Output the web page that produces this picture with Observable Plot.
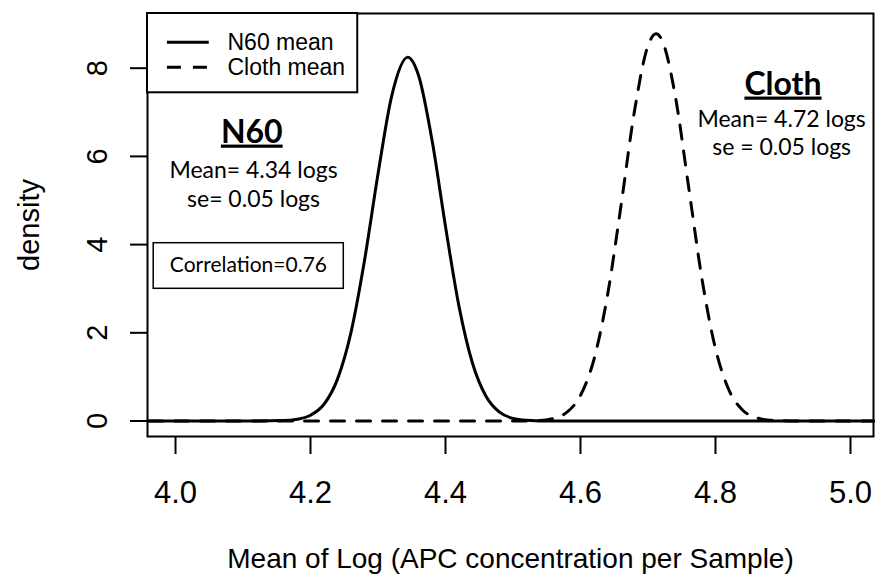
<!DOCTYPE html>
<html>
<head>
<meta charset="utf-8">
<script src="https://cdn.jsdelivr.net/npm/d3@7"></script>
<script src="https://cdn.jsdelivr.net/npm/@observablehq/plot@0.6"></script>
<style>
  html, body { margin: 0; padding: 0; background: #fff; }
  .ul text { text-decoration: underline; text-decoration-thickness: 3px; text-underline-offset: 4px; }
</style>
</head>
<body>
<div id="chart"></div>
<script>
// Density curves
const n60X = [3.96, 4.10, 4.16, 4.18, 4.20, 4.22, 4.24, 4.26, 4.28, 4.30, 4.32, 4.344, 4.36, 4.38, 4.40, 4.42, 4.44, 4.46, 4.48, 4.50, 4.52, 4.56, 5.034];
const n60Density = [0, 0, 0.01, 0.04, 0.13, 0.38, 0.95, 2.01, 3.64, 5.60, 7.35, 8.25, 7.84, 6.37, 4.41, 2.60, 1.31, 0.56, 0.20, 0.06, 0.02, 0, 0];
const clothX = [3.96, 4.50, 4.54, 4.56, 4.58, 4.60, 4.62, 4.64, 4.66, 4.68, 4.70, 4.712, 4.72, 4.74, 4.76, 4.78, 4.80, 4.82, 4.84, 4.86, 4.88, 4.92, 5.034];
const clothDensity = [0, 0, 0.01, 0.06, 0.20, 0.58, 1.40, 2.85, 4.88, 7.03, 8.51, 8.78, 8.66, 7.41, 5.33, 3.22, 1.64, 0.70, 0.25, 0.08, 0.02, 0, 0];
const xTicks = [4.0, 4.2, 4.4, 4.6, 4.8, 5.0];
const yTicks = [0, 2, 4, 6, 8];
const seriesNames = ["N60 mean", "Cloth mean"];
const n60Labels = ["N60", "Mean= 4.34 logs", "se= 0.05 logs"];
const clothLabels = ["Cloth", "Mean= 4.72 logs", "se = 0.05 logs"];
const corrLabel = "Correlation=0.76";
const xTitle = "Mean of Log (APC concentration per Sample)";
const yTitle = "density";

const n60 = n60X.map((x, i) => ({x, y: n60Density[i]}));
const cloth = clothX.map((x, i) => ({x, y: clothDensity[i]}));

const sans = "'Liberation Sans', Arial, sans-serif";
const cal = "Lato, 'Open Sans', sans-serif";

const chart = Plot.plot({
  width: 875,
  height: 576,
  marginLeft: 147,
  marginRight: 2,
  marginTop: 13,
  marginBottom: 140,
  style: {fontFamily: sans, color: "#000", background: "#fff"},
  x: {domain: [3.9585, 5.0341]},
  y: {domain: [-0.351, 9.24]},
  marks: [
    Plot.frame({stroke: "#000", strokeWidth: 2}),
    Plot.axisX({ticks: xTicks, tickFormat: d3.format(".1f"), tickSize: 18, tickPadding: 26, fontSize: 31, strokeWidth: 2, label: null}),
    Plot.axisY({ticks: yTicks, tickFormat: d3.format("d"), tickSize: 17, tickRotate: -90, tickPadding: 24, fontSize: 29, strokeWidth: 2, label: null}),
    Plot.text([xTitle], {frameAnchor: "bottom", lineAnchor: "bottom", dy: 131, text: d => d, fontSize: 28, fontFamily: sans, fill: "#000"}),
    Plot.text([yTitle], {frameAnchor: "left", rotate: -90, textAnchor: "middle", lineAnchor: "top", dx: -129, text: d => d, fontSize: 29, fontFamily: sans, fill: "#000"}),
    // curves
    Plot.line(cloth, {x: "x", y: "y", curve: "monotone-x", stroke: "#000", strokeWidth: 3, strokeDasharray: "14,12"}),
    Plot.line(n60, {x: "x", y: "y", curve: "monotone-x", stroke: "#000", strokeWidth: 3}),
    // legend
    Plot.rect([0], {x1: 3.9585, x2: 4.270, y1: 7.442, y2: 9.24, fill: "#fff", stroke: "#000", strokeWidth: 2}),
    Plot.ruleY([8.59], {x1: 3.988, x2: 4.050, stroke: "#000", strokeWidth: 3}),
    Plot.ruleY([8.02], {x1: 3.988, x2: 4.050, stroke: "#000", strokeWidth: 3, strokeDasharray: "14,12"}),
    Plot.text(seriesNames, {x: 4.077, y: (d, i) => [8.59, 8.02][i], text: d => d, textAnchor: "start", fontSize: 23, fontFamily: sans, fill: "#000"}),
    // N60 annotation
    Plot.text([n60Labels[0]], {x: 4.113, y: 6.546, text: d => d, fontSize: 32, fontWeight: "bold", fontFamily: cal, fill: "#000", className: "ul"}),
    Plot.text(n60Labels.slice(1), {x: 4.1156, y: (d, i) => [5.667, 5.009][i], text: d => d, fontSize: 23, fontFamily: cal, fill: "#000"}),
    // correlation box
    Plot.rect([0], {x1: 3.9677, x2: 4.2493, y1: 2.998, y2: 4.032, fill: "none", stroke: "#000", strokeWidth: 1.5}),
    Plot.text([corrLabel], {x: 4.108, y: 3.542, text: d => d, fontSize: 21, fontFamily: cal, fill: "#000"}),
    // Cloth annotation
    Plot.text([clothLabels[0]], {x: 4.900, y: 7.635, text: d => d, fontSize: 32, fontWeight: "bold", fontFamily: cal, fill: "#000", className: "ul"}),
    Plot.text(clothLabels.slice(1), {x: 4.898, y: (d, i) => [6.823, 6.188][i], text: d => d, fontSize: 23, fontFamily: cal, fill: "#000"})
  ]
});
document.getElementById("chart").appendChild(chart);
</script>
</body>
</html>
